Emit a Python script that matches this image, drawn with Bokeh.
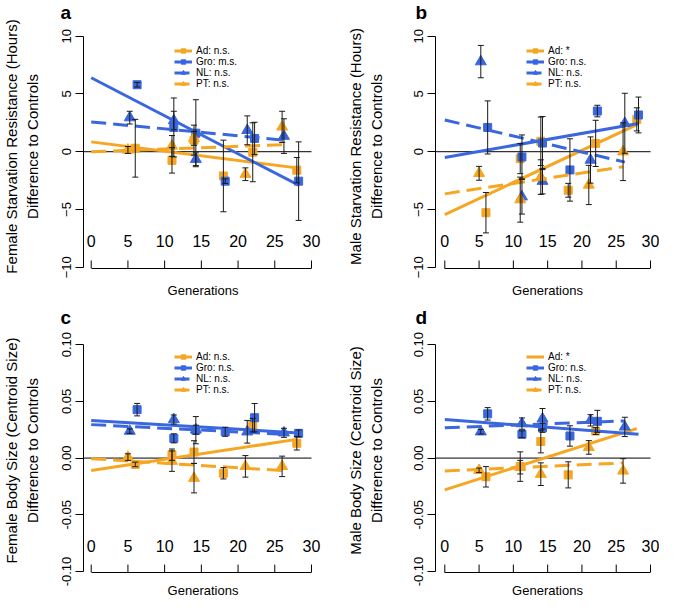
from bokeh.plotting import figure
from bokeh.models import (Range1d, FixedTicker, NumeralTickFormatter, BasicTickFormatter,
                          Whisker, TeeHead, ColumnDataSource, Legend, LegendItem)
from bokeh.core.properties import value
from bokeh.layouts import column, row
from bokeh.embed import file_html
from bokeh.resources import INLINE

ORANGE = "#F5A623"
BLUE = "#3A67DD"
FONT = "Liberation Sans"

# ---------------- data ----------------
X_TICKS = [0, 5, 10, 15, 20, 25, 30]
X_TICK_LABELS = ["0", "5", "10", "15", "20", "25", "30"]
Y_TICKS_STARV = [-10, -5, 0, 5, 10]
Y_TICKS_SIZE = [-0.10, -0.05, 0.00, 0.05, 0.10]

GEN_AD = [6, 11, 14, 18, 22, 28]
GEN_GRO = [6.25, 11.25, 14.25, 18.25, 22.25, 28.25]
GEN_PT = [5, 11, 14, 21, 26]
GEN_NL = [5.25, 11.25, 14.25, 21.25, 26.25]

FIT_X_AD = [0, 28]
FIT_X_GRO = [0, 28.25]
FIT_X_NL = [0, 26.25]
FIT_X_PT = [0, 26]

# a: female starvation resistance
A_AD = [0.3, -0.75, 1.0, -2.1, -0.05, -1.6]
A_AD_SE = [2.5, 1.1, 1.3, 3.1, 2.55, 1.1]
A_GRO = [5.8, 2.1, 1.6, -2.55, 1.15, -2.55]
A_GRO_SE = [0.2, 2.55, 2.9, 0.2, 1.4, 3.4]
A_NL = [2.95, 2.7, -0.65, 1.85, 1.35]
A_NL_SE = [0.55, 0.8, 0.55, 1.25, 1.5]
A_PT = [0.15, 0.5, 1.15, -1.95, 2.15]
A_PT_SE = [0.3, 0.9, 0.6, 0.55, 1.35]
A_FIT_AD = [0.85, -1.4]
A_FIT_GRO = [6.4, -2.9]
A_FIT_NL = [2.58, 1.0]
A_FIT_PT = [0.0, 0.6]
A_LEGEND = ["Ad: n.s.", "Gro: m.s.", "NL: n.s.", "PT: n.s."]

# b: male starvation resistance
B_AD = [-5.28, -0.6, 0.9, -3.34, 0.72, 2.8]
B_AD_SE = [1.75, 1.3, 2.1, 0.6, 2.0, 1.0]
B_GRO = [2.1, -0.45, 0.75, -1.58, 3.52, 3.18]
B_GRO_SE = [2.3, 1.9, 2.3, 2.7, 0.5, 1.55]
B_NL = [7.8, -3.9, -2.55, -0.72, 2.46]
B_NL_SE = [1.4, 1.5, 1.1, 2.0, 2.6]
B_PT = [-1.87, -4.15, -2.2, -2.88, 0.0]
B_PT_SE = [0.6, 1.95, 1.5, 1.7, 2.5]
B_FIT_AD = [-5.45, 2.35]
B_FIT_GRO = [-0.5, 2.45]
B_FIT_NL = [2.75, -0.9]
B_FIT_PT = [-3.65, -1.3]
B_LEGEND = ["Ad: *", "Gro: n.s.", "NL: n.s.", "PT: n.s."]

# c: female body size
C_AD = [-0.0056, 0.003, 0.0053, -0.0134, 0.029, 0.0131]
C_AD_SE = [0.002, 0.005, 0.01, 0.005, 0.006, 0.006]
C_GRO = [0.0427, 0.0174, 0.0246, 0.0232, 0.0356, 0.0218]
C_GRO_SE = [0.0055, 0.004, 0.012, 0.004, 0.0125, 0.003]
C_NL = [0.0238, 0.034, 0.025, 0.0232, 0.0223]
C_NL_SE = [0.002, 0.004, 0.004, 0.01, 0.004]
C_PT = [0.0008, -0.0027, -0.0177, -0.0073, -0.0073]
C_PT_SE = [0.003, 0.009, 0.013, 0.0095, 0.009]
C_FIT_AD = [-0.011, 0.0165]
C_FIT_GRO = [0.0332, 0.0222]
C_FIT_NL = [0.0295, 0.021]
C_FIT_PT = [-0.0005, -0.011]
C_LEGEND = ["Ad: n.s.", "Gro: n.s.", "NL: n.s.", "PT: n.s."]

# d: male body size
D_AD = [-0.0165, -0.0075, 0.0146, -0.0148, 0.0238]
D_AD_SE = [0.009, 0.013, 0.01, 0.0115, 0.003]
D_GRO = [0.039, 0.021, 0.0267, 0.0195, 0.0324]
D_GRO_SE = [0.0055, 0.003, 0.004, 0.009, 0.0097]
D_NL = [0.0232, 0.0304, 0.0347, 0.0333, 0.0275]
D_NL_SE = [0.002, 0.005, 0.009, 0.005, 0.0085]
D_PT = [-0.0108, -0.008, -0.0142, 0.0094, -0.0113]
D_PT_SE = [0.002, 0.006, 0.01, 0.006, 0.0108]
D_FIT_AD = [-0.028, 0.026]
D_FIT_GRO = [0.034, 0.021]
D_FIT_NL = [0.0267, 0.0328]
D_FIT_PT = [-0.0113, -0.0043]
D_LEGEND = ["Ad: *", "Gro: n.s.", "NL: n.s.", "PT: n.s."]

YLAB_A = "Female Starvation Resistance (Hours)\nDifference to Controls"
YLAB_B = "Male Starvation Resistance (Hours)\nDifference to Controls"
YLAB_C = "Female Body Size (Centroid Size)\nDifference to Controls"
YLAB_D = "Male Body Size (Centroid Size)\nDifference to Controls"
XLAB = "Generations"

# ---------------- layout (pixel geometry, not data) ----------------
COLS = {
    "left": dict(width=330, mbl=83, mbr=8, xr=(-1.05, 31.5), ylab_standoff=19,
                 legend_x=91, letter_offset=-23),
    "right": dict(width=329, mbl=105, mbr=0, xr=(-1.356, 31.31), ylab_standoff=27,
                  legend_x=91, letter_offset=-20),
}
ROWS = {
    "top": dict(height=304, mbt=24, mbb=36, yr=(-10.112, 11.013), px_per_unit=11.55,
                legend_y=179, letter_standoff=0, xtick_label_y=-7.7, xlab_standoff=14,
                ticks=Y_TICKS_STARV, fmt=BasicTickFormatter),
    "bottom": dict(height=296, mbt=24, mbb=26, yr=(-0.10088, 0.11425), px_per_unit=1143.5,
                   legend_y=177, letter_standoff=-2, xtick_label_y=-0.0775, xlab_standoff=10,
                   ticks=Y_TICKS_SIZE, fmt=lambda: NumeralTickFormatter(format="0.00")),
}
TICK_PX = 8


def series(p, gens, ys, ses, fit_x, fit_y, color, marker, msize, dash):
    lr = p.line(fit_x, fit_y, line_color=color, line_width=3, line_dash=dash)
    src = ColumnDataSource(dict(x=gens[:len(ys)], y=ys,
                                upper=[y + e for y, e in zip(ys, ses)],
                                lower=[y - e for y, e in zip(ys, ses)]))
    mr = p.scatter("x", "y", source=src, marker=marker, size=msize,
                   fill_color=color, line_color=color)
    w = Whisker(source=src, base="x", upper="upper", lower="lower", dimension="height",
                line_color="#1a1a1a", line_width=1, level="annotation",
                upper_head=TeeHead(size=6, line_color="#1a1a1a", line_width=1),
                lower_head=TeeHead(size=6, line_color="#1a1a1a", line_width=1))
    p.add_layout(w)
    return lr, mr


def panel(letter, ylabel, col, rw, ad, ad_se, gro, gro_se, nl, nl_se, pt, pt_se,
          fit_ad, fit_gro, fit_nl, fit_pt, legend_labels, ad_legend_marker="square"):
    c = COLS[col]
    r = ROWS[rw]
    p = figure(width=c["width"], height=r["height"],
               x_range=Range1d(*c["xr"]), y_range=Range1d(*r["yr"]),
               output_backend="svg", toolbar_location=None,
               min_border_left=c["mbl"], min_border_right=c["mbr"],
               min_border_top=r["mbt"], min_border_bottom=r["mbb"],
               outline_line_color=None, background_fill_color="white")
    p.grid.visible = False

    # panel letter as the figure title
    p.title.text = letter
    p.title.align = "left"
    p.title.offset = c["letter_offset"]
    p.title.standoff = r["letter_standoff"]
    p.title.vertical_align = "top"
    p.title.text_font = FONT
    p.title.text_font_style = "bold"
    p.title.text_font_size = "19px"
    p.title.text_color = "black"

    # horizontal reference line at zero, from the left frame edge to the last tick
    p.segment(x0=[c["xr"][0]], y0=[0], x1=[X_TICKS[-1]], y1=[0],
              line_color="black", line_width=1)

    ad_r = series(p, GEN_AD, ad, ad_se, FIT_X_AD, fit_ad, ORANGE, "square", 8, "solid")
    gro_r = series(p, GEN_GRO, gro, gro_se, FIT_X_GRO, fit_gro, BLUE, "square", 8, "solid")
    nl_r = series(p, GEN_NL, nl, nl_se, FIT_X_NL, fit_nl, BLUE, "triangle", 11, "15 7")
    pt_r = series(p, GEN_PT, pt, pt_se, FIT_X_PT, fit_pt, ORANGE, "triangle", 11, "15 7")

    ad_items = list(ad_r)
    if ad_legend_marker != "square":
        ghost = p.scatter(x=[], y=[], marker=ad_legend_marker, size=8,
                          fill_color=ORANGE, line_color=ORANGE)
        ad_items = [ad_r[0], ghost]

    legend = Legend(items=[LegendItem(label=legend_labels[0], renderers=ad_items),
                           LegendItem(label=legend_labels[1], renderers=list(gro_r)),
                           LegendItem(label=legend_labels[2], renderers=list(nl_r)),
                           LegendItem(label=legend_labels[3], renderers=list(pt_r))],
                    location=(c["legend_x"], r["legend_y"]), padding=0, margin=0, spacing=0,
                    label_height=11, glyph_height=11, glyph_width=18, label_standoff=4,
                    label_text_font_size="10px", label_text_font=FONT,
                    label_text_color="black",
                    border_line_alpha=0, background_fill_alpha=0)
    p.add_layout(legend)

    # x axis in the original's style: bracket with upward ticks, labels above it
    y0 = r["yr"][0]
    p.segment(x0=X_TICKS, y0=[y0] * len(X_TICKS), x1=X_TICKS,
              y1=[y0 + TICK_PX / r["px_per_unit"]] * len(X_TICKS),
              line_color="black", line_width=1)
    p.text(x=X_TICKS, y=[r["xtick_label_y"]] * len(X_TICKS), text=X_TICK_LABELS,
           text_align="center", text_baseline="middle", text_color="black",
           text_font=value(FONT), text_font_size=value("16px"))

    xa = p.xaxis[0]
    xa.ticker = FixedTicker(ticks=[])
    xa.bounds = (X_TICKS[0], X_TICKS[-1])
    xa.major_tick_in = 0
    xa.major_tick_out = 0
    xa.minor_tick_in = 0
    xa.minor_tick_out = 0
    xa.axis_label = XLAB
    xa.axis_label_standoff = r["xlab_standoff"]
    xa.axis_label_text_font_size = "13px"
    xa.axis_label_text_font = FONT
    xa.axis_label_text_font_style = "normal"
    xa.axis_label_text_color = "black"
    xa.axis_line_color = "black"

    ya = p.yaxis[0]
    ya.ticker = FixedTicker(ticks=r["ticks"])
    ya.formatter = r["fmt"]()
    ya.bounds = (r["ticks"][0], r["ticks"][-1])
    ya.major_tick_in = 0
    ya.major_tick_out = 8
    ya.minor_tick_in = 0
    ya.minor_tick_out = 0
    ya.major_label_orientation = "vertical"
    ya.major_label_standoff = 4
    ya.major_label_text_font_size = "13px"
    ya.major_label_text_font = FONT
    ya.major_label_text_color = "black"
    ya.axis_label = ylabel
    ya.axis_label_standoff = c["ylab_standoff"]
    ya.axis_label_text_font_size = "15px"
    ya.axis_label_text_font = FONT
    ya.axis_label_text_font_style = "normal"
    ya.axis_label_text_color = "black"
    ya.axis_line_color = "black"
    ya.major_tick_line_color = "black"
    return p


pa = panel("a", YLAB_A, "left", "top", A_AD, A_AD_SE, A_GRO, A_GRO_SE, A_NL, A_NL_SE,
           A_PT, A_PT_SE, A_FIT_AD, A_FIT_GRO, A_FIT_NL, A_FIT_PT, A_LEGEND)
pb = panel("b", YLAB_B, "right", "top", B_AD, B_AD_SE, B_GRO, B_GRO_SE, B_NL, B_NL_SE,
           B_PT, B_PT_SE, B_FIT_AD, B_FIT_GRO, B_FIT_NL, B_FIT_PT, B_LEGEND)
pc = panel("c", YLAB_C, "left", "bottom", C_AD, C_AD_SE, C_GRO, C_GRO_SE, C_NL, C_NL_SE,
           C_PT, C_PT_SE, C_FIT_AD, C_FIT_GRO, C_FIT_NL, C_FIT_PT, C_LEGEND)
pd = panel("d", YLAB_D, "right", "bottom", D_AD, D_AD_SE, D_GRO, D_GRO_SE, D_NL, D_NL_SE,
           D_PT, D_PT_SE, D_FIT_AD, D_FIT_GRO, D_FIT_NL, D_FIT_PT, D_LEGEND,
           ad_legend_marker="circle")

layout = column(row(pa, pb), row(pc, pd))
open("out.html", "w").write(file_html(layout, INLINE))
